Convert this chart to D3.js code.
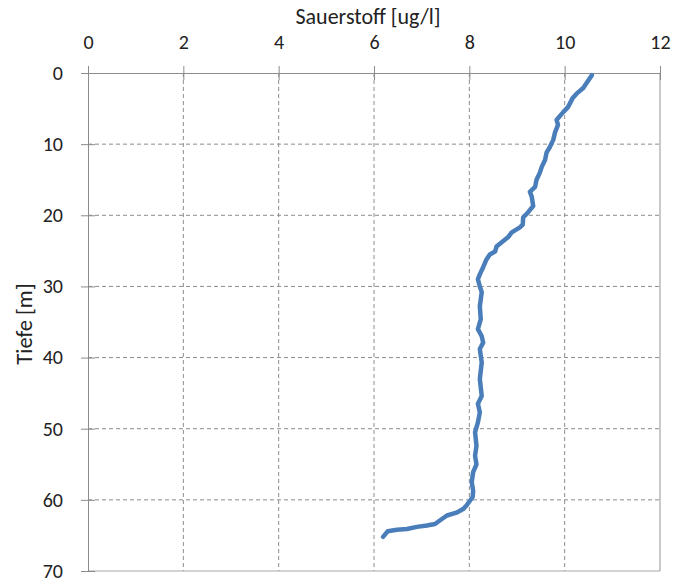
<!DOCTYPE html>
<html>
<head>
<meta charset="utf-8">
<script src="https://cdn.jsdelivr.net/npm/d3@7"></script>
<style>
  body { margin: 0; background: #fff; }
  svg text { font-family: Carlito, Calibri, Lato, "Open Sans", sans-serif; fill: #222; }
</style>
</head>
<body>
<svg id="chart" width="677" height="586"></svg>
<script>
const depth = [0.3, 1.4, 2.1, 2.9, 3.5, 4.8, 5.5, 6.6, 7.3, 8.3, 9.4, 10.4, 11.2, 12.2, 13.2, 14.0, 15.0, 16.0, 16.7, 17.4, 18.7, 19.6, 20.3, 21.3, 21.7, 22.4, 23.1, 23.8, 24.4, 25.1, 25.5, 26.2, 27.3, 28.3, 29.0, 30.0, 30.8, 32.8, 34.6, 36.0, 37.0, 37.9, 38.8, 40.7, 43.0, 45.4, 46.5, 47.7, 49.1, 50.5, 52.4, 53.8, 55.0, 56.1, 57.5, 58.7, 59.6, 60.8, 61.3, 61.8, 62.2, 62.9, 63.4, 63.6, 63.8, 64.1, 64.2, 64.4, 65.2];
const oxygen = [10.57, 10.46, 10.39, 10.25, 10.17, 10.07, 9.97, 9.83, 9.86, 9.80, 9.76, 9.69, 9.62, 9.59, 9.52, 9.48, 9.41, 9.38, 9.27, 9.31, 9.34, 9.23, 9.13, 9.12, 9.06, 8.89, 8.81, 8.68, 8.57, 8.54, 8.43, 8.36, 8.29, 8.22, 8.18, 8.22, 8.26, 8.22, 8.24, 8.18, 8.26, 8.29, 8.22, 8.26, 8.22, 8.26, 8.18, 8.22, 8.18, 8.12, 8.15, 8.12, 8.15, 8.08, 8.05, 8.08, 8.07, 7.94, 7.87, 7.73, 7.53, 7.38, 7.28, 7.11, 6.90, 6.69, 6.48, 6.29, 6.19];
const xTicks = [0, 2, 4, 6, 8, 10, 12];
const yTicks = [0, 10, 20, 30, 40, 50, 60, 70];
const xTitle = "Sauerstoff [ug/l]";
const yTitle = "Tiefe [m]";

const svg = d3.select("#chart");
const L = 88, R = 660, T = 73, B = 571;
const x = d3.scaleLinear().domain([0, 12]).range([L, R]);
const y = d3.scaleLinear().domain([0, 70]).range([T, B]);

// gridlines
const g = svg.append("g");
g.selectAll(".vg").data(xTicks.slice(1, -1)).join("line")
  .attr("x1", d => x(d)).attr("x2", d => x(d)).attr("y1", T).attr("y2", B)
  .attr("stroke", "#8c8c8c").attr("stroke-width", 1).attr("stroke-dasharray", "4,3");
g.selectAll(".hg").data(yTicks.slice(1, -1)).join("line")
  .attr("x1", L).attr("x2", R).attr("y1", d => y(d)).attr("y2", d => y(d))
  .attr("stroke", "#8c8c8c").attr("stroke-width", 1).attr("stroke-dasharray", "4,3");

// frame (right & bottom)
svg.append("line").attr("x1", R).attr("x2", R).attr("y1", T).attr("y2", B)
  .attr("stroke", "#a6a6a6").attr("stroke-width", 1.2);
svg.append("line").attr("x1", L).attr("x2", R).attr("y1", B).attr("y2", B)
  .attr("stroke", "#a6a6a6").attr("stroke-width", 1.2);

// top axis
const xa = svg.append("g").attr("transform", `translate(0,${T})`)
  .call(d3.axisTop(x).tickValues(xTicks).tickSize(7).tickPadding(17));
xa.select(".domain").attr("stroke", "#8c8c8c");
xa.selectAll(".tick line").attr("stroke", "#8c8c8c").attr("y2", -7).attr("y1", 7);
xa.selectAll("text").style("font-size", "20px").attr("fill", "#222").attr("dy", "0");

// left axis
const ya = svg.append("g").attr("transform", `translate(${L},0)`)
  .call(d3.axisLeft(y).tickValues(yTicks).tickSize(7).tickPadding(18));
ya.select(".domain").attr("stroke", "#8c8c8c");
ya.selectAll(".tick line").attr("stroke", "#8c8c8c").attr("x1", 7).attr("x2", -7);
ya.selectAll("text").style("font-size", "20px").attr("fill", "#222");

// titles
svg.append("text").attr("x", 368).attr("y", 24).attr("text-anchor", "middle")
  .style("font-size", "22px").text(xTitle);
svg.append("text").attr("transform", "translate(32,324) rotate(-90)")
  .attr("text-anchor", "middle").style("font-size", "22.5px").text(yTitle);

// data line
const line = d3.line().x(d => x(d[1])).y(d => y(d[0])).curve(d3.curveLinear);
svg.append("path").datum(depth.map((d, i) => [d, oxygen[i]]))
  .attr("d", line).attr("fill", "none").attr("stroke", "#4a7ebb")
  .attr("stroke-width", 4.5).attr("stroke-linejoin", "round").attr("stroke-linecap", "round");
</script>
</body>
</html>
